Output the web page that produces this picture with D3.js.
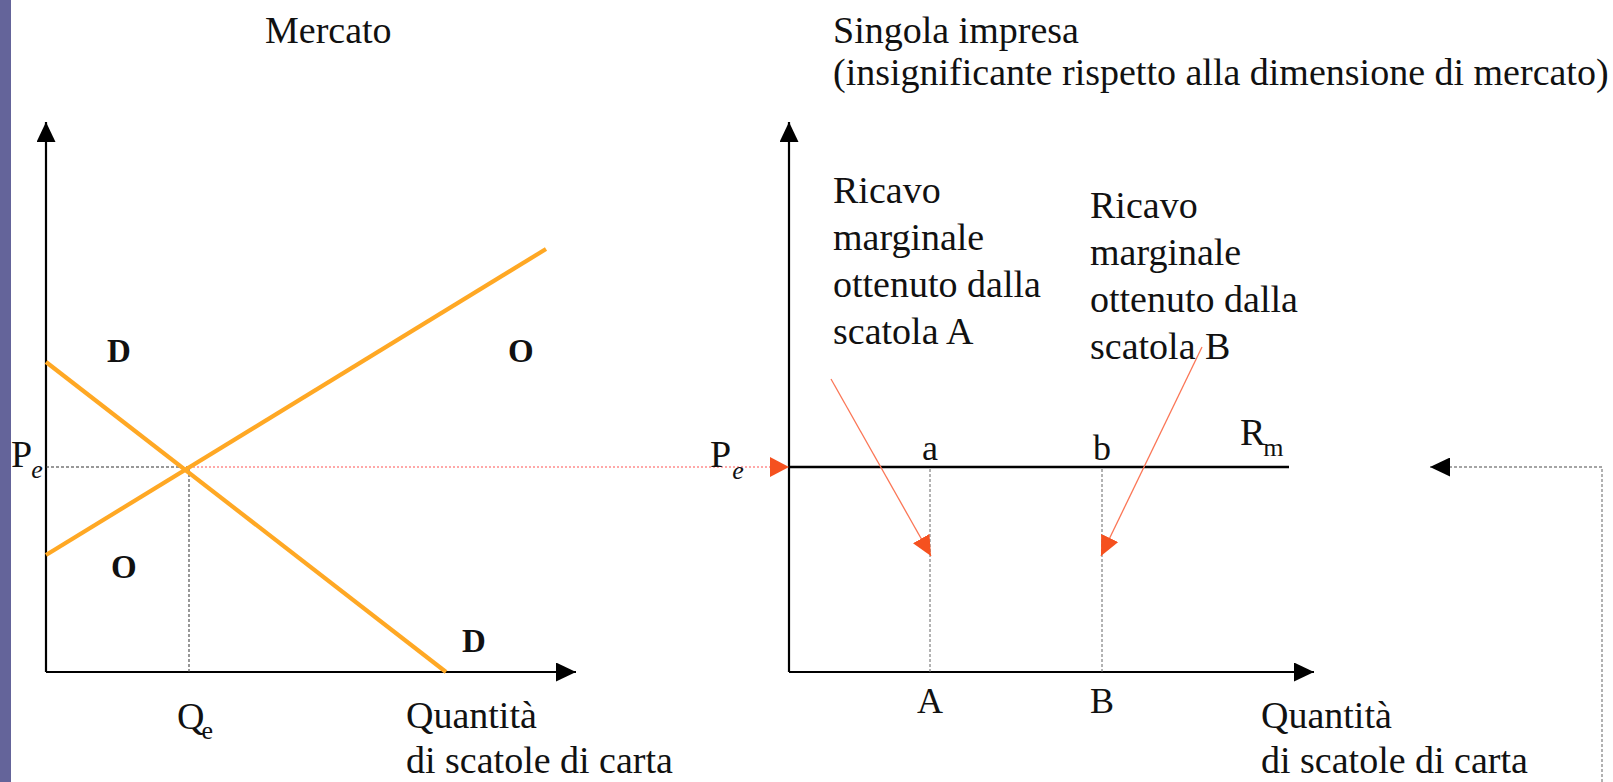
<!DOCTYPE html>
<html>
<head>
<meta charset="utf-8">
<script src="https://cdn.jsdelivr.net/npm/d3@7"></script>
<style>
  html, body { margin: 0; padding: 0; background: #fff; }
  svg { display: block; }
  text { font-family: "Liberation Serif", "Times New Roman", serif; fill: #111; }
</style>
</head>
<body>
<svg id="chart" width="1613" height="782"></svg>
<script>
// ---- data -------------------------------------------------------------
const panelTitles = ["Mercato", "Singola impresa"];
const panelSubtitle = "(insignificante rispetto alla dimensione di mercato)";
const axisLabelLines = ["Quantità", "di scatole di carta"];

// market curves (quantity q, price p)
const supplyCurve = [{ q: 0, p: 23.4 }, { q: 100, p: 84.6 }];
const demandCurve = [{ q: 0, p: 62 }, { q: 80, p: 0 }];
const equilibrium = { q: 28.6, p: 41 };

// single firm: horizontal marginal revenue at the market price
const marginalRevenue = [{ q: 0, p: 41 }, { q: 100, p: 41 }];
const firmBoxes = [
  { point: "a", box: "A", q: 28.2 },
  { point: "b", box: "B", q: 62.6 }
];
const boxNotes = [
  { lines: ["Ricavo", "marginale", "ottenuto dalla", "scatola A"], tq: 8.8, tp: 93.8, from: { q: 8.4, p: 58.6 }, to: { q: 28.4, p: 23.2 } },
  { lines: ["Ricavo", "marginale", "ottenuto dalla", "scatola B"], tq: 60.2, tp: 90.8, from: { q: 82.6, p: 65 }, to: { q: 62.4, p: 23.2 } }
];
// feedback connector entering from the right edge
const returnPath = [{ q: 162.6, p: -24 }, { q: 162.6, p: 41 }, { q: 128.2, p: 41 }];

// ---- scales -----------------------------------------------------------
const xMarket = d3.scaleLinear().domain([0, 106]).range([46, 576]);
const xFirm = d3.scaleLinear().domain([0, 105]).range([789, 1314]);
const yPrice = d3.scaleLinear().domain([0, 110]).range([672, 122]);

const svg = d3.select("#chart");
svg.append("rect").attr("width", 1613).attr("height", 782).attr("fill", "#fff");
svg.append("rect").attr("x", 0).attr("y", 0).attr("width", 11).attr("height", 782).attr("fill", "#64649a");

// ---- arrow markers ----------------------------------------------------
const defs = svg.append("defs");
function marker(id, color, len, half) {
  defs.append("marker")
    .attr("id", id)
    .attr("markerUnits", "userSpaceOnUse")
    .attr("viewBox", `0 ${-half} ${len} ${half * 2}`)
    .attr("refX", len).attr("refY", 0)
    .attr("markerWidth", len).attr("markerHeight", half * 2)
    .attr("orient", "auto")
    .append("path")
    .attr("d", `M0,${-half}L${len},0L0,${half}Z`)
    .attr("fill", color);
}
marker("arrBlack", "#000", 20, 9.5);
marker("arrRed", "#f5511f", 19, 10);
marker("arrRedSmall", "#f5511f", 20, 9.5);
marker("arrReturn", "#000", 20, 9.5);

const line = x => d3.line().x(d => x(d.q)).y(d => yPrice(d.p));

// ---- axes (drawn from the scales, with arrow tips) ---------------------
function axes(x) {
  const [q0, q1] = x.domain();
  const [p0, p1] = yPrice.domain();
  svg.append("path")
    .attr("d", line(x)([{ q: q0, p: p0 }, { q: q1, p: p0 }]))
    .attr("stroke", "#000").attr("stroke-width", 2.2).attr("fill", "none")
    .attr("marker-end", "url(#arrBlack)");
  svg.append("path")
    .attr("d", line(x)([{ q: q0, p: p0 }, { q: q0, p: p1 }]))
    .attr("stroke", "#000").attr("stroke-width", 2.2).attr("fill", "none")
    .attr("marker-end", "url(#arrBlack)");
}
axes(xMarket);
axes(xFirm);

// ---- market panel -----------------------------------------------------
// guide lines at the equilibrium
svg.append("path")
  .attr("d", line(xMarket)([{ q: 0, p: equilibrium.p }, { q: equilibrium.q, p: equilibrium.p }]))
  .attr("stroke", "#333").attr("stroke-width", 1.2).attr("stroke-dasharray", "3,2").attr("fill", "none");
svg.append("path")
  .attr("d", line(xMarket)([{ q: equilibrium.q, p: 0 }, { q: equilibrium.q, p: equilibrium.p }]))
  .attr("stroke", "#444").attr("stroke-width", 1.1).attr("stroke-dasharray", "3,2").attr("fill", "none");

// price carried over to the firm panel
svg.append("line")
  .attr("x1", xMarket(equilibrium.q)).attr("y1", yPrice(equilibrium.p))
  .attr("x2", xFirm(0)).attr("y2", yPrice(equilibrium.p))
  .attr("stroke", "#ff8c8c").attr("stroke-width", 1.6).attr("stroke-dasharray", "2,2")
  .attr("marker-end", "url(#arrRed)");

// supply and demand
[supplyCurve, demandCurve].forEach(c => {
  svg.append("path").attr("d", line(xMarket)(c))
    .attr("stroke", "#ffa824").attr("stroke-width", 4.2).attr("fill", "none");
});

// ---- firm panel -------------------------------------------------------
firmBoxes.forEach(b => {
  svg.append("path")
    .attr("d", line(xFirm)([{ q: b.q, p: 0 }, { q: b.q, p: equilibrium.p }]))
    .attr("stroke", "#666").attr("stroke-width", 1).attr("stroke-dasharray", "3,2").attr("fill", "none");
});
svg.append("path").attr("d", line(xFirm)(marginalRevenue))
  .attr("stroke", "#000").attr("stroke-width", 2.6).attr("fill", "none");

boxNotes.forEach(n => {
  svg.append("path").attr("d", line(xFirm)([n.from, n.to]))
    .attr("stroke", "#fb7656").attr("stroke-width", 1.3).attr("fill", "none")
    .attr("marker-end", "url(#arrRedSmall)");
  const t = svg.append("text").attr("x", xFirm(n.tq)).attr("y", yPrice(n.tp)).attr("font-size", 38);
  n.lines.forEach((s, i) => t.append("tspan").attr("x", xFirm(n.tq)).attr("dy", i ? 47 : 0).text(s));
});

svg.append("path").attr("d", line(xFirm)(returnPath))
  .attr("stroke", "#888").attr("stroke-width", 1.3).attr("stroke-dasharray", "3,2").attr("fill", "none")
  .attr("marker-end", "url(#arrReturn)");

// ---- text -------------------------------------------------------------
svg.append("text").attr("x", 265).attr("y", 43).attr("font-size", 38).text(panelTitles[0]);
svg.append("text").attr("x", 833).attr("y", 43).attr("font-size", 38).text(panelTitles[1]);
svg.append("text").attr("x", 833).attr("y", 85).attr("font-size", 38).text(panelSubtitle);

function qLabel(x) {
  const t = svg.append("text").attr("x", x).attr("y", 728).attr("font-size", 38);
  t.append("tspan").attr("x", x).text(axisLabelLines[0]);
  t.append("tspan").attr("x", x).attr("dy", 45).text(axisLabelLines[1]);
}
qLabel(406);
qLabel(1261);

// curve names
const curveNames = [
  { s: "D", q: 12.2, p: 62 }, { s: "O", q: 92.4, p: 62 },
  { s: "O", q: 13, p: 18.8 }, { s: "D", q: 83.2, p: 4 }
];
curveNames.forEach(c => svg.append("text")
  .attr("x", xMarket(c.q)).attr("y", yPrice(c.p))
  .attr("font-size", 33).attr("font-weight", "bold").text(c.s));

// P_e on both price axes
function subLabel(x, y, main, sub, italic, subDx, subDy) {
  const t = svg.append("text").attr("x", x).attr("y", y).attr("font-size", 38);
  t.append("tspan").text(main);
  t.append("tspan").attr("dx", subDx).attr("dy", subDy).attr("font-size", 26)
    .attr("font-style", italic ? "italic" : "normal").text(sub);
}
subLabel(11, yPrice(equilibrium.p), "P", "e", true, -1, 11);
subLabel(710, yPrice(equilibrium.p), "P", "e", true, 1, 12);
subLabel(xMarket(equilibrium.q) - 12, 729, "Q", "e", false, -3, 10);
subLabel(1240, 445, "R", "m", false, -2, 11);

firmBoxes.forEach(b => {
  svg.append("text").attr("x", xFirm(b.q)).attr("y", 460).attr("font-size", 36)
    .attr("text-anchor", "middle").text(b.point);
  svg.append("text").attr("x", xFirm(b.q)).attr("y", 713).attr("font-size", 36)
    .attr("text-anchor", "middle").text(b.box);
});
</script>
</body>
</html>
